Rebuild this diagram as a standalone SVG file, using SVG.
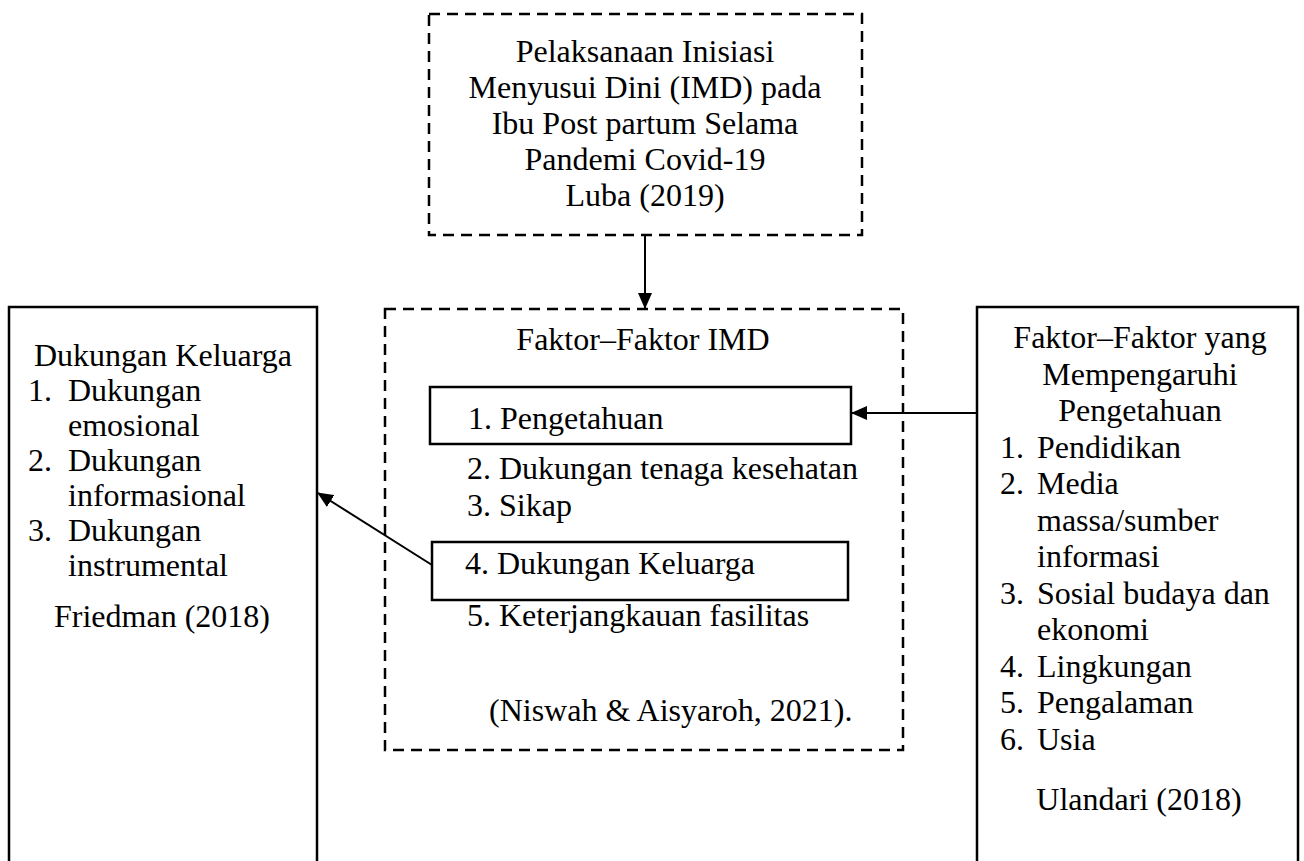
<svg xmlns="http://www.w3.org/2000/svg" width="1304" height="861" viewBox="0 0 1304 861">
<style>
  text { font-family: "Liberation Serif", "Times New Roman", serif; font-size: 32px; fill: #000; }
  .c { text-anchor: middle; }
  .solid { fill: #fff; stroke: #000; stroke-width: 2.5; }
  .dash { fill: none; stroke: #000; stroke-width: 2.5; stroke-dasharray: 11 7; }
  .conn { fill: none; stroke: #000; stroke-width: 2; }
</style>
<defs>
  <marker id="ah" markerUnits="userSpaceOnUse" markerWidth="16" markerHeight="14" refX="15" refY="7" orient="auto">
    <path d="M0,0 L16,7 L0,14 Z" fill="#000"/>
  </marker>
</defs>
<rect width="1304" height="861" fill="#fff"/>

<g id="top">
  <rect class="dash" x="429" y="14" width="433" height="221"/>
  <text class="c" x="645" y="62">Pelaksanaan Inisiasi</text>
  <text class="c" x="645" y="98">Menyusui Dini (IMD) pada</text>
  <text class="c" x="645" y="134">Ibu Post partum Selama</text>
  <text class="c" x="645" y="170">Pandemi Covid-19</text>
  <text class="c" x="645" y="206">Luba (2019)</text>
</g>

<g id="middle">
  <rect class="dash" x="385" y="309" width="518" height="441"/>
  <text class="c" x="643" y="350">Faktor–Faktor IMD</text>
  <rect class="solid" x="430" y="387" width="421" height="57"/>
  <text x="468" y="429">1. Pengetahuan</text>
  <text x="467" y="479">2. Dukungan tenaga kesehatan</text>
  <text x="467" y="516">3. Sikap</text>
  <rect class="solid" x="432" y="542" width="416" height="58"/>
  <text x="465" y="574">4. Dukungan Keluarga</text>
  <text x="467" y="626">5. Keterjangkauan fasilitas</text>
  <text x="489" y="721">(Niswah &amp; Aisyaroh, 2021).</text>
</g>

<g id="left">
  <rect class="solid" x="9" y="307" width="308" height="570"/>
  <text class="c" x="163" y="366">Dukungan Keluarga</text>
  <text x="28" y="401">1.</text><text x="68" y="401">Dukungan</text>
  <text x="68" y="436">emosional</text>
  <text x="28" y="471">2.</text><text x="68" y="471">Dukungan</text>
  <text x="68" y="506">informasional</text>
  <text x="28" y="541">3.</text><text x="68" y="541">Dukungan</text>
  <text x="68" y="576">instrumental</text>
  <text class="c" x="162" y="627">Friedman (2018)</text>
</g>

<g id="right">
  <rect class="solid" x="977" y="307" width="321" height="570"/>
  <text class="c" x="1140" y="348">Faktor–Faktor yang</text>
  <text class="c" x="1140" y="384.5">Mempengaruhi</text>
  <text class="c" x="1140" y="421">Pengetahuan</text>
  <text x="1000" y="457.5">1.</text><text x="1037" y="457.5">Pendidikan</text>
  <text x="1000" y="494">2.</text><text x="1037" y="494">Media</text>
  <text x="1037" y="530.5">massa/sumber</text>
  <text x="1037" y="567">informasi</text>
  <text x="1000" y="603.5">3.</text><text x="1037" y="603.5">Sosial budaya dan</text>
  <text x="1037" y="640">ekonomi</text>
  <text x="1000" y="676.5">4.</text><text x="1037" y="676.5">Lingkungan</text>
  <text x="1000" y="713">5.</text><text x="1037" y="713">Pengalaman</text>
  <text x="1000" y="749.5">6.</text><text x="1037" y="749.5">Usia</text>
  <text class="c" x="1139" y="810">Ulandari (2018)</text>
</g>

<g id="connectors">
  <line class="conn" x1="645" y1="235" x2="645" y2="308" marker-end="url(#ah)"/>
  <line class="conn" x1="977" y1="413" x2="852" y2="413" marker-end="url(#ah)"/>
  <line class="conn" x1="432" y1="565" x2="318" y2="493" marker-end="url(#ah)"/>
</g>
</svg>
